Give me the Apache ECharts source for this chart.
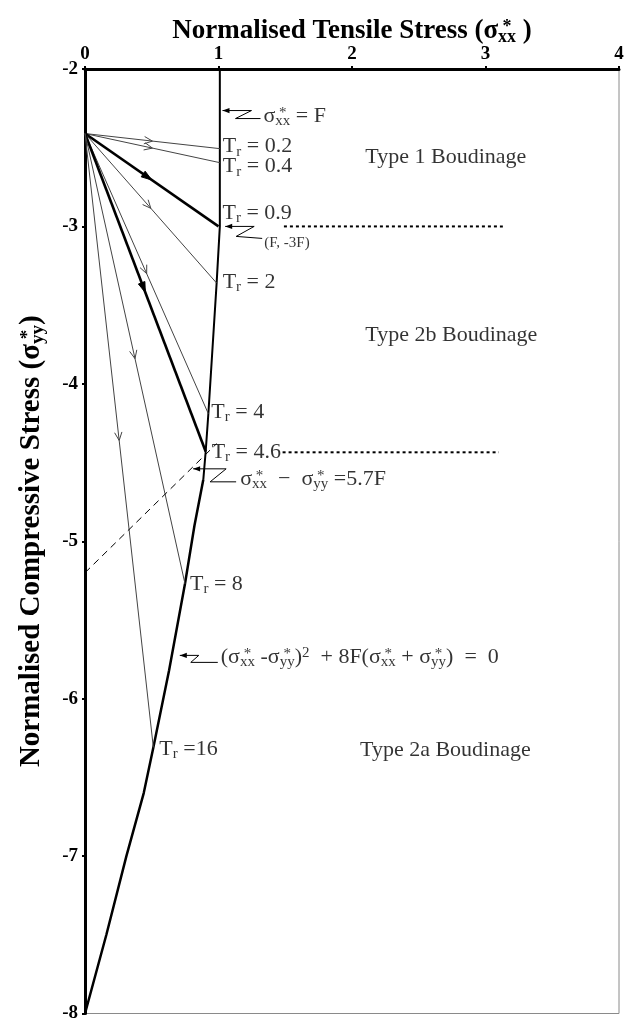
<!DOCTYPE html>
<html><head><meta charset="utf-8">
<script src="https://cdn.jsdelivr.net/npm/echarts@6/dist/echarts.min.js"></script>
<style>html,body{margin:0;padding:0;background:#fff}#c{width:629px;height:1023px}</style>
</head><body><div id="c"></div>
<script>
// ---------- data ----------
const xTicks = [0, 1, 2, 3, 4];
const yTicks = [-2, -3, -4, -5, -6, -7, -8];
const startPoint = [0, -2.41];
const trValues = ['0.2', '0.4', '0.9', '2', '4', '4.6', '8', '16'];
const trEndX = [1.01, 1.01, 1.0, 0.986, 0.924, 0.904, 0.749, 0.512];
const trEndY = [-2.506, -2.595, -3.0, -3.36, -4.19, -4.43, -5.27, -6.31];
const trBold = [false, false, true, false, false, true, false, false];
const boundaryUpper = [[1.01, -2], [1.01, -3], [0.986, -3.36], [0.924, -4.19], [0.904, -4.43], [0.886, -4.61]];
const boundaryLower = [[0.886, -4.61], [0.82, -4.90], [0.749, -5.27], [0.63, -5.82], [0.512, -6.31], [0.44, -6.6], [0.31, -7.0], [0.16, -7.5], [0, -8]];
const dashedLine = [[0, -5.2], [0.986, -4.38]];
const dottedLevel1 = [[1.49, -3.0], [3.13, -3.0]];
const dottedLevel2 = [[1.48, -4.435], [3.10, -4.435]];
const regionLabels = ['Type 1 Boudinage', 'Type 2b Boudinage', 'Type 2a Boudinage'];
const regionAnchors = [[2.1, -2.56], [2.1, -3.69], [2.06, -6.33]];
const leaderTips = [[1.03, -2.264], [1.05, -3.0], [0.81, -4.54], [0.71, -5.725]];
const leaderTexts = [
  '{m|σ}{st| *}{sub|xx}{m| = F}',
  '{s|(F, -3F)}',
  '{m|σ}{st| *}{sub|xx}{m|  −  σ}{st| *}{sub|yy}{m| =5.7F}',
  '{m|(σ}{st| *}{sub|xx}{m| -σ}{st| *}{sub|yy}{m|)}{sup|2}{m|  + 8F(σ}{st| *}{sub|xx}{m| + σ}{st| *}{sub|yy}{m|)  =  0}'
];

// ---------- layout / style (pixels) ----------
const FF = 'Liberation Serif';
const trLabelOffset = [[3, -2], [3, 4], [4, -13], [6, -1], [3, -2], [6, 1], [5, 0], [6, 2]];
const leaderShape = [
  {pts: [[0, 0], [29, 0], [13, 8], [38, 8]], text: [41, 6]},
  {pts: [[0, 0], [29, 0], [11, 10], [37, 12]], text: [39, 17]},
  {pts: [[0, 0], [33, 0], [17, 13], [43, 13]], text: [47, 10]},
  {pts: [[0, 0], [19, 0], [11, 7], [38, 7]], text: [41, 2]}
];
const rich = {
  m: {fontFamily: FF, fontSize: 22, color: '#000', lineHeight: 26, height: 26, align: 'left'},
  sub: {fontFamily: FF, fontSize: 15, color: '#000', lineHeight: 16, height: 16, verticalAlign: 'bottom', align: 'left'},
  st: {fontFamily: FF, fontSize: 15, color: '#000', lineHeight: 20, height: 20, verticalAlign: 'top', width: 0, align: 'left'},
  sup: {fontFamily: FF, fontSize: 15, color: '#000', lineHeight: 18, height: 18, verticalAlign: 'top', align: 'left'},
  s: {fontFamily: FF, fontSize: 15, color: '#000', lineHeight: 18, height: 18, align: 'left'}
};
function titleRich(size) {
  const sub = Math.round(size * 0.66);
  return {
    b: {fontFamily: FF, fontSize: size, fontWeight: 'bold', color: '#000', lineHeight: 32, height: 32, align: 'left'},
    bsub: {fontFamily: FF, fontSize: sub, fontWeight: 'bold', color: '#000', lineHeight: 20, height: 20, verticalAlign: 'bottom', align: 'left'},
    bst: {fontFamily: FF, fontSize: sub, fontWeight: 'bold', color: '#000', lineHeight: 24, height: 24, verticalAlign: 'top', width: 0, align: 'left'}
  };
}

const chart = echarts.init(document.getElementById('c'), null, {renderer: 'canvas'});

function lineSeries(data, width, color, type) {
  return {type: 'line', data: data, symbol: 'none', silent: true, z: 3,
    lineStyle: {color: color, width: width, type: type || 'solid'}};
}

const series = [];
series.push(lineSeries(boundaryUpper, 2, '#000'));
series.push(lineSeries(boundaryLower, 2.5, '#000'));
trEndX.forEach((x, i) => {
  series.push(lineSeries([startPoint, [x, trEndY[i]]], trBold[i] ? 2.6 : 1, trBold[i] ? '#000' : '#444'));
});
series.push(lineSeries(dashedLine, 1, '#000', [7, 5]));
series.push(lineSeries(dottedLevel1, 2, '#000', [3, 3]));
series.push(lineSeries(dottedLevel2, 2, '#000', [3, 3]));

// direction arrows at the middle of each path
series.push({
  type: 'custom', silent: true, z: 4,
  data: trEndX.map((x, i) => [startPoint[0], startPoint[1], x, trEndY[i], trBold[i] ? 1 : 0]),
  encode: {x: [0, 2], y: [1, 3]},
  renderItem: function (params, api) {
    const p0 = api.coord([api.value(0), api.value(1)]);
    const p1 = api.coord([api.value(2), api.value(3)]);
    const bold = api.value(4) === 1;
    const mx = (p0[0] + p1[0]) / 2, my = (p0[1] + p1[1]) / 2;
    const ang = Math.atan2(p1[1] - p0[1], p1[0] - p0[0]);
    const L = bold ? 11 : 9, a = bold ? 0.32 : 0.42;
    const pts = [
      [mx - L * Math.cos(ang - a), my - L * Math.sin(ang - a)],
      [mx, my],
      [mx - L * Math.cos(ang + a), my - L * Math.sin(ang + a)]
    ];
    if (bold) {
      return {type: 'polygon', shape: {points: pts}, style: {fill: '#000', stroke: '#000', lineWidth: 1}};
    }
    return {type: 'polyline', shape: {points: pts}, style: {stroke: '#444', lineWidth: 1, fill: null}};
  }
});

// leader lines with zig-zag
series.push({
  type: 'custom', silent: true, z: 4,
  data: leaderTips,
  encode: {x: 0, y: 1},
  renderItem: function (params, api) {
    const p = api.coord([api.value(0), api.value(1)]);
    const s = leaderShape[params.dataIndex];
    return {type: 'group', x: p[0], y: p[1], children: [
      {type: 'polyline', shape: {points: s.pts}, style: {stroke: '#000', lineWidth: 1, fill: null}},
      {type: 'polygon', shape: {points: [[0, 0], [7, -2.6], [7, 2.6]]}, style: {fill: '#000'}}
    ]};
  }
});

const labelBase = {show: true, position: 'right', distance: 0, align: 'left', verticalAlign: 'middle',
  color: '#000', textBorderWidth: 0, rich: rich};

// Tr labels
series.push({
  type: 'scatter', symbolSize: 0, silent: true, z: 5,
  label: labelBase,
  data: trEndX.map((x, i) => ({
    value: [x, trEndY[i]],
    label: {formatter: '{m|T}{sub|r}{m| ' + (trValues[i] === '16' ? '=16' : '= ' + trValues[i]) + '}', offset: trLabelOffset[i]}
  }))
});
// leader texts
series.push({
  type: 'scatter', symbolSize: 0, silent: true, z: 5,
  label: labelBase,
  data: leaderTips.map((p, i) => ({
    value: p,
    label: {formatter: leaderTexts[i], offset: leaderShape[i].text}
  }))
});
// region texts
series.push({
  type: 'scatter', symbolSize: 0, silent: true, z: 5,
  label: {show: true, position: 'right', distance: 0, align: 'left', verticalAlign: 'middle',
    fontFamily: FF, fontSize: 22, color: '#000'},
  data: regionAnchors.map((p, i) => ({value: p, label: {formatter: regionLabels[i]}}))
});

chart.setOption({
  animation: false,
  backgroundColor: '#fff',
  grid: {left: 85, right: 10, top: 69, bottom: 5, show: true, borderColor: '#8a8a8a', borderWidth: 1, containLabel: false},
  xAxis: {
    type: 'value', position: 'top', min: xTicks[0], max: xTicks[xTicks.length - 1], interval: 1,
    axisLine: {show: true, onZero: false, lineStyle: {color: '#000', width: 3}},
    axisTick: {show: true, inside: false, length: 3, lineStyle: {color: '#000', width: 2}},
    axisLabel: {fontFamily: FF, fontWeight: 'bold', fontSize: 19, color: '#000', margin: 5},
    splitLine: {show: false},
    name: '{b|Normalised Tensile Stress (σ}{bst| *}{bsub|xx}{b| )}',
    nameLocation: 'middle', nameGap: 22, nameMoveOverlap: false,
    nameTextStyle: {fontFamily: FF, fontWeight: 'bold', fontSize: 27, color: '#000', rich: titleRich(27)}
  },
  yAxis: {
    type: 'value', min: yTicks[yTicks.length - 1], max: yTicks[0], interval: 1,
    axisLine: {show: true, onZero: false, lineStyle: {color: '#000', width: 3}},
    axisTick: {show: true, inside: false, length: 3, lineStyle: {color: '#000', width: 2}},
    axisLabel: {fontFamily: FF, fontWeight: 'bold', fontSize: 19, color: '#000', margin: 7},
    splitLine: {show: false},
    name: '{b|Normalised Compressive Stress (σ}{bst| *}{bsub|yy}{b|)}',
    nameLocation: 'middle', nameGap: 37, nameMoveOverlap: false,
    nameTextStyle: {fontFamily: FF, fontWeight: 'bold', fontSize: 29, color: '#000', rich: titleRich(29)}
  },
  series: series
});
</script>
</body></html>
